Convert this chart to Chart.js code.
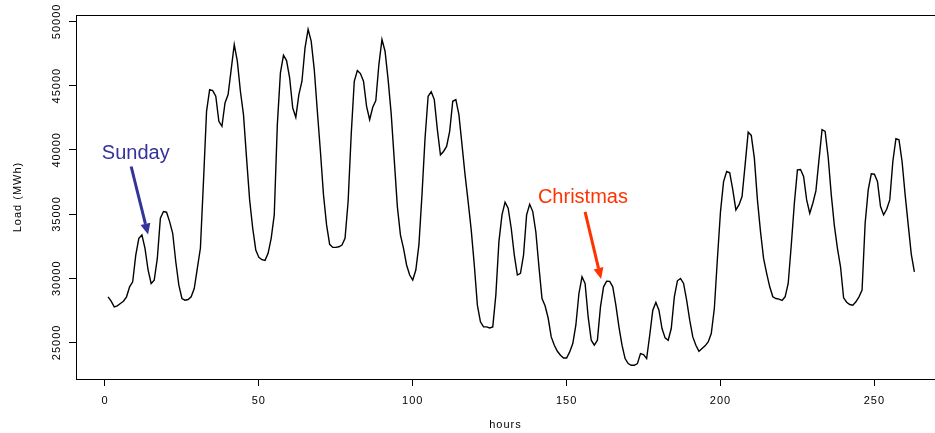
<!DOCTYPE html>
<html>
<head>
<meta charset="utf-8">
<script src="https://cdn.jsdelivr.net/npm/chart.js@4.4.1/dist/chart.umd.min.js"></script>
<style>
  html, body { margin: 0; padding: 0; background: #fff; overflow: hidden; }
  #wrap { width: 935px; height: 433px; }
</style>
</head>
<body>
<div id="wrap"><canvas id="chart1" width="935" height="433"></canvas></div>
<script>
// hourly load (MWh), hour 1 .. 263
const load = [
  28550, 28210, 27770, 27850, 28030, 28210, 28550, 29330, 29720, 31800,
  33110, 33370, 32330, 30640, 29590, 29850, 31540, 34670, 35190, 35140,
  34410, 33500, 31280, 29460, 28420, 28290, 28340, 28550, 29200, 30760,
  32330, 37530, 43000, 44690, 44610, 44170, 42220, 41830, 43650, 44300,
  46250, 48200, 46900, 44560, 42740, 39350, 36100, 33890, 32200, 31620,
  31440, 31390, 31940, 33110, 34930, 41960, 45990, 47370, 46950, 45600,
  43260, 42530, 44300, 45340, 47940, 49380, 48470, 46250, 43000, 39870,
  36490, 34150, 32640, 32400, 32400, 32450, 32580, 33110, 35970, 41180,
  45340, 46180, 45940, 45340, 43390, 42350, 43310, 43830, 46640, 48590,
  47680, 45470, 42800, 39200, 35580, 33370, 32330, 31030, 30250, 29860,
  30640, 32590, 36490, 40920, 44170, 44530, 43910, 41570, 39610, 39870,
  40260, 41440, 43780, 43910, 42740, 40400, 38050, 35970, 33760, 31030,
  27900, 26600, 26210, 26210, 26130, 26210, 28680, 32850, 34930, 35920,
  35450, 33890, 31800, 30250, 30380, 31800, 34930, 35760, 35190, 33600,
  30900, 28420, 27850, 26900, 25430, 24780, 24310, 24000, 23790, 23790,
  24260, 24910, 26340, 28810, 30110, 29590, 26990, 25170, 24780, 25170,
  27770, 29330, 29770, 29750, 29330, 27900, 26210, 24780, 23740, 23350,
  23220, 23220, 23350, 24130, 24050, 23740, 25560, 27510, 28110, 27510,
  26080, 25350, 25170, 26080, 28550, 29800, 29980, 29590, 28290, 26730,
  25430, 24780, 24310, 24520, 24730, 25040, 25690, 27640, 31540, 35190,
  37530, 38310, 38210, 36880, 35320, 35710, 36360, 38830, 41380, 41120,
  39350, 36100, 33630, 31540, 30380, 29330, 28550, 28420, 28370, 28270,
  28550, 29590, 32590, 35840, 38440, 38470, 37920, 36100, 35060, 35840,
  36800, 39220, 41570, 41440, 39400, 36490, 34100, 32330, 30890, 28470,
  28130, 27950, 27900, 28160, 28550, 29070, 34280, 36880, 38130, 38100,
  37530, 35580, 34930, 35370, 36100, 39090, 40860, 40780, 39090, 36490,
  34150, 31860, 30500
];
const hours = load.map((_, i) => i + 1);

const xTicks = [0, 50, 100, 150, 200, 250];
const yTicks = [25000, 30000, 35000, 40000, 45000, 50000];

// text notes with arrows: label position, arrow start, arrow end (data units)
const notes = [
  { text: "Sunday", color: "#333399", at: [10, 39750], from: [8.5, 38700], to: [14, 33400] },
  { text: "Christmas", color: "#ff3300", at: [155.3, 36250], from: [156, 35160], to: [161.2, 29940] }
];

const tickFont = { family: "Liberation Sans", size: 11 };

const boxPlugin = {
  id: "box",
  beforeDraw(chart) {
    chart.ctx.letterSpacing = "1px";
  },
  afterDraw(chart) {
    const { ctx, chartArea: a } = chart;
    ctx.save();
    ctx.strokeStyle = "#000";
    ctx.lineWidth = 1;
    ctx.strokeRect(a.left + 0.5, a.top + 0.5, a.right - a.left, a.bottom - a.top);
    ctx.restore();
  }
};

const notePlugin = {
  id: "notes",
  afterDatasetsDraw(chart) {
    const { ctx } = chart;
    const xs = chart.scales.x, ys = chart.scales.y;
    ctx.save();
    ctx.letterSpacing = "0px";
    notes.forEach(n => {
      ctx.fillStyle = n.color;
      ctx.strokeStyle = n.color;
      ctx.font = "20px 'Liberation Sans'";
      ctx.textAlign = "center";
      ctx.textBaseline = "middle";
      ctx.fillText(n.text, xs.getPixelForValue(n.at[0]), ys.getPixelForValue(n.at[1]));

      const x0 = xs.getPixelForValue(n.from[0]), y0 = ys.getPixelForValue(n.from[1]);
      const x1 = xs.getPixelForValue(n.to[0]), y1 = ys.getPixelForValue(n.to[1]);
      const ang = Math.atan2(y1 - y0, x1 - x0);
      const len = 11, half = 5;
      const bx = x1 - len * Math.cos(ang), by = y1 - len * Math.sin(ang);
      ctx.lineWidth = 3;
      ctx.beginPath();
      ctx.moveTo(x0, y0);
      ctx.lineTo(bx, by);
      ctx.stroke();
      ctx.beginPath();
      ctx.moveTo(x1, y1);
      ctx.lineTo(bx + half * Math.sin(ang), by - half * Math.cos(ang));
      ctx.lineTo(bx - half * Math.sin(ang), by + half * Math.cos(ang));
      ctx.closePath();
      ctx.fill();
    });
    ctx.restore();
  }
};

const ctx = document.getElementById("chart1");
const chart = new Chart(ctx, {
  type: "line",
  data: {
    datasets: [{
      label: "load",
      data: hours.map((h, i) => ({ x: h, y: load[i] })),
      borderColor: "#000",
      borderWidth: 1.4,
      pointRadius: 0,
      tension: 0,
      fill: false
    }]
  },
  options: {
    responsive: false,
    animation: false,
    layout: { padding: { top: 15, right: 0, left: 0, bottom: 0 } },
    plugins: { legend: { display: false }, tooltip: { enabled: false } },
    scales: {
      x: {
        type: "linear",
        min: -9.42,
        max: 269.7,
        afterBuildTicks: s => { s.ticks = xTicks.map(v => ({ value: v })); },
        afterFit: s => { s.height = 54; },
        grid: { drawOnChartArea: false, drawTicks: true, tickLength: 7, color: "#000" },
        border: { display: false },
        ticks: { color: "#000", font: tickFont, padding: 8, maxRotation: 0, autoSkip: false, callback: v => String(v) },
        title: { display: true, text: "hours", color: "#000", font: tickFont, padding: { top: 0, bottom: 1 } }
      },
      y: {
        type: "linear",
        min: 22150,
        max: 50500,
        afterBuildTicks: s => { s.ticks = yTicks.map(v => ({ value: v })); },
        afterFit: s => { s.width = 76; },
        grid: { drawOnChartArea: false, drawTicks: true, tickLength: 7, color: "#000" },
        border: { display: false },
        ticks: { color: "#000", font: tickFont, padding: -3, minRotation: 90, maxRotation: 90, crossAlign: "center", autoSkip: false, callback: v => String(v) },
        title: { display: true, text: "Load (MWh)", color: "#000", font: tickFont, padding: { top: 11, bottom: 0 } }
      }
    }
  },
  plugins: [boxPlugin, notePlugin]
});
</script>
</body>
</html>
